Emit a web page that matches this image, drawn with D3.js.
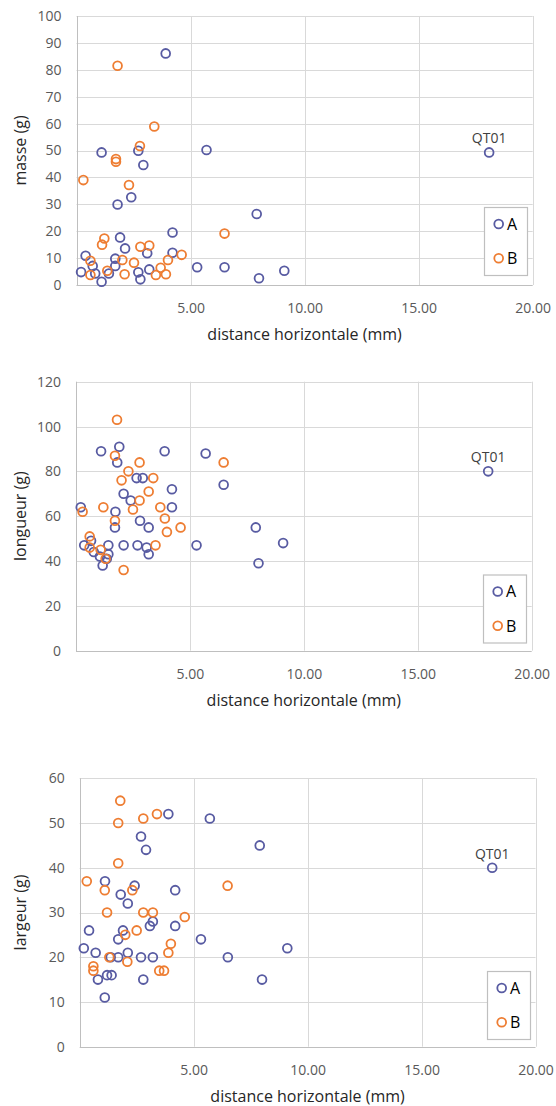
<!DOCTYPE html>
<html>
<head>
<meta charset="utf-8">
<script src="https://cdn.jsdelivr.net/npm/d3@7"></script>
<style>
  html, body { margin: 0; padding: 0; background: #ffffff; }
  svg { display: block; }
  text { font-family: "Open Sans", "DejaVu Sans", sans-serif; }
</style>
</head>
<body>
<script>
// ---------- DATA ----------
const seriesNames = ["A", "B"];
const xTicks = [5, 10, 15, 20];
const xTitle = "distance horizontale (mm)";

// masse (g)
const masseTicks = [0, 10, 20, 30, 40, 50, 60, 70, 80, 90, 100];
const masseA_x = [3.91, 2.71, 1.10, 5.70, 2.93, 2.40, 1.80, 7.90, 4.21, 1.91, 2.13, 3.10, 4.21, 0.40, 1.70, 0.71, 1.70, 3.19, 5.29, 6.49, 0.20, 1.42, 0.82, 1.10, 2.71, 2.80, 8.00, 9.11, 18.09];
const masseA_y = [86.1, 49.9, 49.3, 50.2, 44.6, 32.6, 29.9, 26.4, 19.5, 17.7, 13.6, 11.8, 12.0, 10.9, 9.8, 7.1, 7.1, 5.8, 6.6, 6.6, 4.8, 4.3, 4.3, 1.2, 4.7, 2.1, 2.5, 5.3, 49.3];
const masseB_x = [1.80, 3.41, 2.78, 1.73, 1.73, 0.30, 2.30, 6.49, 1.22, 1.12, 2.80, 3.19, 4.61, 4.01, 0.61, 2.01, 2.52, 3.69, 1.35, 0.61, 2.11, 3.48, 3.92];
const masseB_y = [81.5, 58.9, 51.7, 46.8, 45.8, 39.0, 37.2, 19.1, 17.3, 15.0, 14.2, 14.7, 11.2, 9.3, 9.0, 9.3, 8.3, 6.4, 5.3, 3.7, 4.0, 3.7, 4.0];

// longueur (g)
const longueurTicks = [0, 20, 40, 60, 80, 100, 120];
const longueurA_x = [1.10, 1.90, 3.89, 1.81, 5.69, 2.66, 2.93, 6.48, 4.21, 2.09, 2.40, 4.21, 0.21, 1.73, 2.81, 1.71, 3.19, 7.89, 9.09, 8.01, 0.66, 0.36, 0.78, 1.42, 2.09, 2.70, 3.10, 3.19, 5.29, 1.05, 1.17, 1.42, 1.35, 18.09];
const longueurA_y = [89, 91, 89, 84, 88, 77, 77, 74, 72, 70, 67, 64, 64, 62, 58, 55, 55, 55, 48, 39, 49, 47, 44, 47, 47, 47, 46, 43, 47, 42, 38, 43, 41, 80];
const longueurB_x = [1.80, 1.71, 2.79, 6.48, 2.30, 3.39, 2.00, 3.19, 2.79, 3.70, 1.20, 0.29, 2.50, 3.90, 1.71, 4.59, 3.99, 0.60, 0.60, 1.08, 3.49, 1.30, 2.09];
const longueurB_y = [103, 87, 84, 84, 80, 77, 76, 71, 67, 64, 64, 62, 63, 59, 58, 55, 53, 51, 46, 45, 47, 41, 36];

// largeur (g)
const largeurTicks = [0, 10, 20, 30, 40, 50, 60];
const largeurA_x = [3.89, 5.71, 2.69, 2.91, 7.90, 1.11, 2.41, 1.80, 4.19, 2.11, 0.41, 1.90, 3.21, 3.08, 4.19, 1.69, 5.32, 0.18, 0.70, 2.11, 1.36, 1.69, 2.69, 3.21, 6.50, 1.20, 1.40, 0.80, 2.79, 8.00, 1.10, 9.11, 18.10];
const largeurA_y = [52, 51, 47, 44, 45, 37, 36, 34, 35, 32, 26, 26, 28, 27, 27, 24, 24, 22, 21, 21, 20, 20, 20, 20, 20, 16, 16, 15, 15, 15, 11, 22, 40];
const largeurB_x = [1.78, 3.39, 1.69, 2.79, 1.69, 0.31, 1.10, 2.31, 6.49, 1.20, 2.79, 3.21, 4.61, 2.00, 2.50, 4.00, 3.89, 1.30, 2.09, 0.60, 0.60, 3.49, 3.70];
const largeurB_y = [55, 52, 50, 51, 41, 37, 35, 35, 36, 30, 30, 30, 29, 25, 26, 23, 21, 20, 19, 18, 17, 17, 17];

// labelled point (series A)
const pointLabel = "QT01";
const pointLabelX = 18.1;

// ---------- STYLE / LAYOUT ----------
const colors = { A: "#585ba2", B: "#ee7d32" };
const W = 556, H = 1106;

const svg = d3.select("body").append("svg")
  .attr("width", W).attr("height", H)
  .style("background", "#fff");

function drawPanel(cfg) {
  const x = d3.scaleLinear().domain([0, 20]).range([cfg.left, cfg.right]);
  const y = d3.scaleLinear().domain([0, cfg.ticks[cfg.ticks.length - 1]]).range([cfg.bottom, cfg.top]);
  const g = svg.append("g");

  // horizontal gridlines
  g.selectAll(".hg").data(cfg.ticks.filter(d => d > 0)).join("line")
    .attr("x1", cfg.left).attr("x2", cfg.right)
    .attr("y1", d => Math.round(y(d)) + 0.5).attr("y2", d => Math.round(y(d)) + 0.5)
    .attr("stroke", "#d9d9d9").attr("stroke-width", 1);
  // vertical gridlines
  g.selectAll(".vg").data(xTicks).join("line")
    .attr("y1", cfg.top).attr("y2", cfg.bottom)
    .attr("x1", d => Math.round(x(d)) + 0.5).attr("x2", d => Math.round(x(d)) + 0.5)
    .attr("stroke", "#d9d9d9").attr("stroke-width", 1);
  // axis lines
  g.append("line").attr("x1", Math.round(cfg.left) + 0.5).attr("x2", Math.round(cfg.left) + 0.5)
    .attr("y1", cfg.top).attr("y2", cfg.bottom + 0.5).attr("stroke", "#bfbfbf");
  g.append("line").attr("x1", cfg.left).attr("x2", cfg.right)
    .attr("y1", Math.round(cfg.bottom) + 0.5).attr("y2", Math.round(cfg.bottom) + 0.5).attr("stroke", "#bfbfbf");

  // y axis labels
  const ya = g.append("g").attr("transform", `translate(${cfg.left},0)`)
    .call(d3.axisLeft(y).tickValues(cfg.ticks).tickSize(0).tickPadding(15).tickFormat(d3.format("d")));
  ya.select(".domain").remove();
  ya.selectAll("text").attr("font-size", 14).attr("fill", "#595959")
    .attr("font-family", "Open Sans, sans-serif");

  // x axis labels
  const xa = g.append("g").attr("transform", `translate(0,${cfg.bottom})`)
    .call(d3.axisBottom(x).tickValues(xTicks).tickSize(0).tickPadding(18).tickFormat(d3.format(".2f")));
  xa.select(".domain").remove();
  xa.selectAll("text").attr("font-size", 14).attr("fill", "#595959")
    .attr("font-family", "Open Sans, sans-serif");

  // axis titles
  g.append("text").attr("x", (cfg.left + cfg.right) / 2).attr("y", cfg.bottom + 55)
    .attr("text-anchor", "middle").attr("font-size", 16).attr("fill", "#262626")
    .text(xTitle);
  g.append("text")
    .attr("transform", `translate(${cfg.ytx},${(cfg.top + cfg.bottom) / 2}) rotate(-90)`)
    .attr("text-anchor", "middle").attr("dy", "0.35em").attr("font-size", 16).attr("fill", "#262626")
    .text(cfg.ytitle);

  // points
  const series = [
    { name: "A", xs: cfg.ax, ys: cfg.ay },
    { name: "B", xs: cfg.bx, ys: cfg.by }
  ];
  series.forEach(s => {
    g.append("g").selectAll("circle").data(s.xs.map((v, i) => [v, s.ys[i]])).join("circle")
      .attr("cx", d => x(d[0])).attr("cy", d => y(d[1])).attr("r", 4.4)
      .attr("fill", "none").attr("stroke", colors[s.name]).attr("stroke-width", 1.8);
  });

  // data label
  const li = cfg.ax.findIndex(v => Math.abs(v - pointLabelX) < 0.5);
  if (li >= 0) {
    g.append("text").attr("x", x(cfg.ax[li])).attr("y", y(cfg.ay[li]) - 9)
      .attr("text-anchor", "middle").attr("font-size", 14).attr("fill", "#404040")
      .text(pointLabel);
  }

  // legend
  const lg = g.append("g").attr("transform", `translate(${cfg.lx},${cfg.ly})`);
  lg.append("rect").attr("x", 0.5).attr("y", 0.5).attr("width", 43).attr("height", 68)
    .attr("fill", "#fff").attr("stroke", "#bfbfbf").attr("stroke-width", 1.2);
  seriesNames.forEach((n, i) => {
    lg.append("circle").attr("cx", 14.7).attr("cy", 17 + i * 34.3).attr("r", 4.4)
      .attr("fill", "none").attr("stroke", colors[n]).attr("stroke-width", 1.8);
    lg.append("text").attr("x", 23).attr("y", 17 + i * 34.3).attr("dy", "0.36em")
      .attr("font-size", 16).attr("fill", "#000").text(n);
  });
}

drawPanel({ left: 76.5, right: 532.7, top: 16, bottom: 285, ticks: masseTicks,
  ytitle: "masse (g)", ytx: 20, ax: masseA_x, ay: masseA_y, bx: masseB_x, by: masseB_y,
  lx: 484, ly: 207 });
drawPanel({ left: 76, right: 531.7, top: 381.7, bottom: 650.7, ticks: longueurTicks,
  ytitle: "longueur (g)", ytx: 20, ax: longueurA_x, ay: longueurA_y, bx: longueurB_x, by: longueurB_y,
  lx: 483, ly: 574.5 });
drawPanel({ left: 79.7, right: 535.5, top: 778.3, bottom: 1046.7, ticks: largeurTicks,
  ytitle: "largeur (g)", ytx: 20, ax: largeurA_x, ay: largeurA_y, bx: largeurB_x, by: largeurB_y,
  lx: 487, ly: 971 });
</script>
</body>
</html>
